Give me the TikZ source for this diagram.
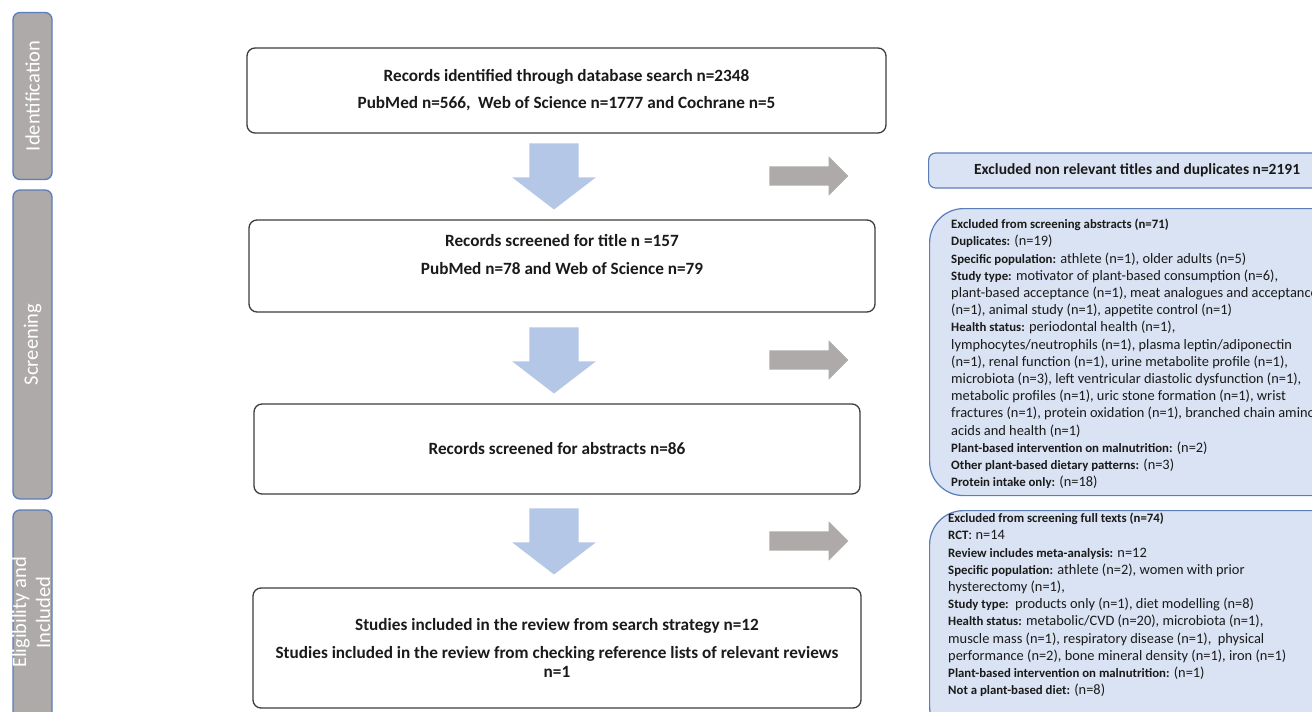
\documentclass[tikz,border=0pt]{standalone}
\usepackage{fontspec}
\setmainfont{Carlito}
\usepackage{xcolor}
\usepackage{tikz}
\definecolor{prGray}{HTML}{AEAAAA}
\definecolor{prBlue}{HTML}{B4C7E7}
\definecolor{prPale}{HTML}{DAE3F3}
\definecolor{prEdge}{HTML}{5B7DB8}
\definecolor{prInk}{HTML}{1A1A1A}
\usetikzlibrary{shapes.arrows,calc,positioning}
\newcommand{\hd}[1]{{\bfseries\fontsize{12.8}{17.2}\selectfont #1}}

\begin{document}
\begin{tikzpicture}[x=1pt,y=-1pt,
    phase/.style={draw=prEdge, line width=1.3pt, fill=prGray, rounded corners=7pt,
      minimum width=39pt, inner sep=0pt},
    phasetext/.style={text=white, rotate=90, align=center, inner sep=0pt,
      font=\fontsize{20.5}{24}\selectfont},
    recbox/.style={draw=prInk!85, line width=1.3pt, rounded corners=8pt, fill=white,
      inner sep=0pt, align=center, text=prInk,
      font=\bfseries\fontsize{17.2}{19}\selectfont},
    down/.style={single arrow, fill=prBlue, rotate=-90, inner xsep=0pt, inner ysep=24.5pt,
      minimum height=66pt, single arrow head extend=17pt, single arrow tip angle=105},
    side/.style={single arrow, fill=prGray, inner xsep=0pt, inner ysep=9.5pt,
      minimum height=79pt, single arrow head extend=10pt, single arrow tip angle=90},
    exclbox/.style={draw=prEdge, line width=1.2pt, fill=prPale, inner sep=0pt},
    excltext/.style={anchor=north west, align=left, inner sep=0pt, text=prInk,
      font=\fontsize{14.4}{17.2}\selectfont}]

    \useasboundingbox (0,0) rectangle (1312,712);
    \clip (0,0) rectangle (1312,712);
    \fill[white] (0,0) rectangle (1312,712);

    \node[phase, minimum height=167pt] (ident) at (32.5,96) {};
    \node[phase, minimum height=309pt] (screen) at (32.5,344.5) {};
    \node[phase, minimum height=210pt] (elig) at (32.5,615) {};
    \node[phasetext] (identlbl) at (ident) {Identification};
    \node[phasetext] (screenlbl) at (screen) {Screening};
    \node[phasetext] (eliglbl) at (31,612.5) {Eligibility and\\Included};

    \node[recbox, minimum width=639pt, minimum height=85pt] (records) at (566.5,90.5)
      {Records identified through database search n=2348\\[8pt]
       PubMed n=566, \ Web of Science n=1777 and Cochrane n=5};
    \node[recbox, minimum width=626pt, minimum height=92pt] (title) at (562,266) {};
    \node[recbox, draw=none, fill=none] (titlelbl) at (562,255)
      {Records screened for title n =157\\[9pt]
       PubMed n=78 and Web of Science n=79};
    \node[recbox, minimum width=606pt, minimum height=90pt] (abstracts) at (557,449)
      {Records screened for abstracts n=86};
    \node[recbox, minimum width=608pt, minimum height=120pt] (included) at (557,648)
      {Studies included in the review from search strategy n=12\\[9pt]
       Studies included in the review from checking reference lists of relevant reviews\\
       n=1};

    \foreach \y/\n in {167/1,351/2,532/3} {
      \node[down] (down\n) at (554,\y) {};
      \node[side] (side\n) at (804,\y+9) {};
    }

    \node[exclbox, rounded corners=7pt, minimum width=417pt, minimum height=35pt,
      anchor=west, font=\bfseries\fontsize{15.5}{18}\selectfont, text=prInk]
      (dupes) at (928,170.5) {Excluded non relevant titles and duplicates n=2191};

    \node[exclbox, rounded corners=34pt, minimum width=416pt, minimum height=287pt,
      anchor=north west] (absbox) at (929,208) {};
    \node[excltext] (abstxt) at ($(absbox.north west)+(22,11)$)
      {\hd{Excluded from screening abstracts (n=71)}\\
       \hd{Duplicates:} (n=19)\\
       \hd{Specific population:} athlete (n=1), older adults (n=5)\\
       \hd{Study type:} motivator of plant-based consumption (n=6),\\
       plant-based acceptance (n=1), meat analogues and acceptance\\
       (n=1), animal study (n=1), appetite control (n=1)\\
       \hd{Health status:} periodontal health (n=1),\\
       lymphocytes/neutrophils (n=1), plasma leptin/adiponectin\\
       (n=1), renal function (n=1), urine metabolite profile (n=1),\\
       microbiota (n=3), left ventricular diastolic dysfunction (n=1),\\
       metabolic profiles (n=1), uric stone formation (n=1), wrist\\
       fractures (n=1), protein oxidation (n=1), branched chain amino\\
       acids and health (n=1)\\
       \hd{Plant-based intervention on malnutrition:} (n=2)\\
       \hd{Other plant-based dietary patterns:} (n=3)\\
       \hd{Protein intake only:} (n=18)};

    \node[exclbox, rounded corners=34pt, minimum width=416pt, minimum height=230pt,
      anchor=north west] (fullbox) at (929,510) {};
    \node[excltext] (fulltxt) at ($(fullbox.north west)+(19,3)$)
      {\hd{Excluded from screening full texts (n=74)}\\
       \hd{RCT}: n=14\\
       \hd{Review includes meta-analysis:} n=12\\
       \hd{Specific population:} athlete (n=2), women with prior\\
       hysterectomy (n=1),\\
       \hd{Study type:}\ \ products only (n=1), diet modelling (n=8)\\
       \hd{Health status:} metabolic/CVD (n=20), microbiota (n=1),\\
       muscle mass (n=1), respiratory disease (n=1), \ physical\\
       performance (n=2), bone mineral density (n=1), iron (n=1)\\
       \hd{Plant-based intervention on malnutrition:} (n=1)\\
       \hd{Not a plant-based diet:} (n=8)};
  \end{tikzpicture}
\end{document}
